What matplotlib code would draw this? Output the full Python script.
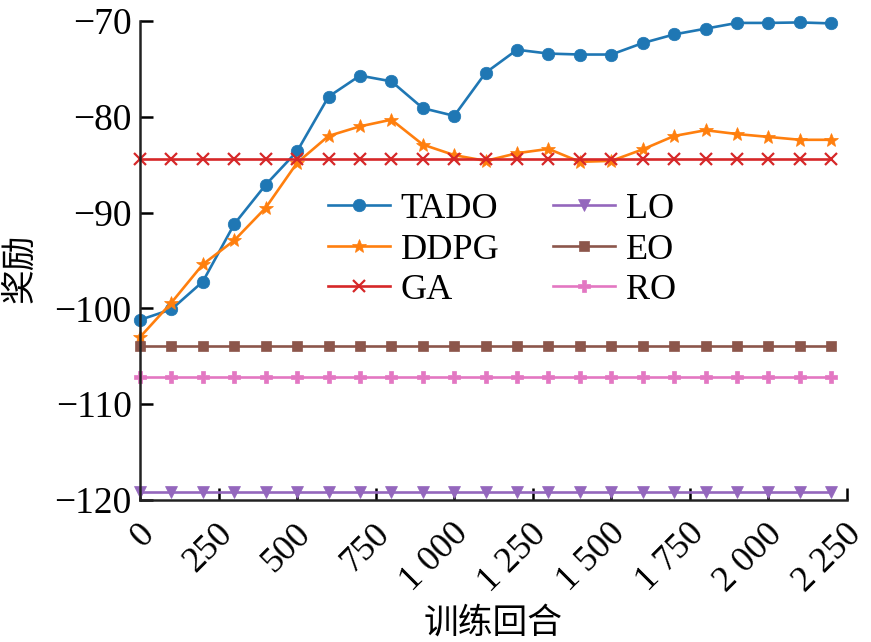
import matplotlib

matplotlib.use("Agg")
import matplotlib.pyplot as plt
from matplotlib.ticker import FuncFormatter
from matplotlib.transforms import ScaledTranslation

# training episodes (every 100)
episodes = list(range(0, 2300, 100))

tado = [-101.2, -100.1, -97.2, -91.2, -87.1, -83.6, -77.9, -75.7, -76.3, -79.1,
        -79.9, -75.4, -73.0, -73.4, -73.5, -73.5, -72.3, -71.4, -70.8, -70.2,
        -70.2, -70.15, -70.25]
ddpg = [-103.0, -99.4, -95.4, -92.9, -89.5, -84.8, -82.0, -81.0, -80.3, -82.9,
        -84.0, -84.6, -83.8, -83.35, -84.7, -84.6, -83.4, -82.0, -81.4, -81.8,
        -82.1, -82.4, -82.4]
ga = [-84.4] * len(episodes)
lo = [-119.2] * len(episodes)
eo = [-103.9] * len(episodes)
ro = [-107.15] * len(episodes)

series = [
    ("TADO", tado, "#1f77b4", "o", 9),
    ("DDPG", ddpg, "#ff7f0e", "*", 10),
    ("GA", ga, "#d62728", "x", 8),
    ("LO", lo, "#9467bd", "v", 8),
    ("EO", eo, "#8c564b", "s", 7),
    ("RO", ro, "#e377c2", "P", 8),
]

x_ticks = list(range(0, 2500, 250))
y_ticks = [-120, -110, -100, -90, -80, -70]

serif = ["Liberation Serif", "DejaVu Serif"]
cjk = ["Noto Sans CJK SC", "DejaVu Sans"]
plt.rcParams["font.family"] = serif

fig = plt.figure(figsize=(8.71, 6.42), dpi=100)
ax = fig.add_axes([140 / 871, 1 - 500 / 642, 707 / 871, 479 / 642])

for name, values, color, marker, ms in series:
    ax.plot(episodes, values, color=color, marker=marker, markersize=ms,
            linewidth=1.9, markeredgewidth=1.6 if marker == "x" else 0.5,
            label=name, clip_on=False)

ax.set_xlim(0, 2250)
ax.set_ylim(-120, -70)
ax.set_xticks(x_ticks)
ax.set_yticks(y_ticks)


def thousands(v, pos):
    return f"{int(v):,}".replace(",", " ")


ax.xaxis.set_major_formatter(FuncFormatter(thousands))
ax.yaxis.set_major_formatter(FuncFormatter(lambda v, pos: f"\u2212{abs(int(v))}"))

for side in ("top", "right"):
    ax.spines[side].set_visible(False)
for side in ("left", "bottom"):
    ax.spines[side].set_linewidth(1.8)
    ax.spines[side].set_color("#222222")

ax.tick_params(direction="in", length=9, width=1.8, labelsize=27, pad=6)
ax.tick_params(axis="x", labelsize=26, pad=21)
shift = ScaledTranslation(9 / 100, 0, fig.dpi_scale_trans)
for label in ax.get_xticklabels():
    label.set_rotation(45)
    label.set_ha("right")
    label.set_va("center")
    label.set_rotation_mode("anchor")
    label.set_transform(label.get_transform() + shift)

fig.text(493 / 871, 1 - 623 / 642, "训练回合", fontsize=25, family=cjk,
         ha="center", va="center")
fig.text(20 / 871, 1 - 268 / 642, "奖励", fontsize=25, family=cjk,
         rotation=90, ha="center", va="center")

ax.legend(ncol=2, frameon=False, fontsize=26, loc="center",
          bbox_to_anchor=(502 / 871, 1 - 250 / 642),
          bbox_transform=fig.transFigure, handlelength=1.7,
          handletextpad=0.3, columnspacing=1.5, labelspacing=0.2,
          borderpad=0)

fig.savefig("out.png", dpi=100)
